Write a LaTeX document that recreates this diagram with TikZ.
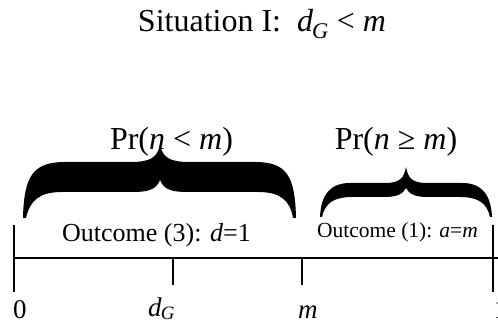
\documentclass[tikz,border=0pt]{standalone}
\usepackage{fontspec}
\setmainfont{Liberation Serif}
\begin{document}
\begin{tikzpicture}[x=1pt,y=-1pt,
  axisline/.style={line width=2.6pt},
  lbl/.style={inner sep=0pt,anchor=base},
  bracefill/.style={fill=black,draw=none}]
\useasboundingbox (0,0) rectangle (498,323);
\clip (0,0) rectangle (498,323);
% title
\node[lbl] (title) at (262,32) {\fontsize{32}{36}\selectfont Situation I:\ \ \textit{d}\textsubscript{\kern-1pt\textit{G}} < \textit{m}};
% probability labels
\node[lbl] (prl) at (171.5,150) {\fontsize{32}{36}\selectfont Pr(\textit{n} < \textit{m})};
\node[lbl] (prr) at (396,150) {\fontsize{32}{36}\selectfont Pr(\textit{n} ≥ \textit{m})};
% braces
\path[bracefill] (23,218) .. controls (24,176) and (33,162) .. (65,162) -- (130,162)
  .. controls (150,162) and (157,158) .. (160,145)
  .. controls (163,158) and (170,162) .. (190,162) -- (255,162)
  .. controls (287,162) and (295,176) .. (296,218) -- (293,218)
  .. controls (290,200) and (280,192) .. (258,192) -- (188,192)
  .. controls (172,192) and (164,190) .. (160,180)
  .. controls (156,190) and (148,192) .. (132,192) -- (62,192)
  .. controls (40,192) and (30,200) .. (26,218) -- cycle;
\path[bracefill] (320,217) .. controls (321,195) and (330,183) .. (350,183) -- (385,183)
  .. controls (400,183) and (404,178) .. (406,167)
  .. controls (408,178) and (412,183) .. (427,183) -- (462,183)
  .. controls (482,183) and (491,195) .. (492,217) -- (490,217)
  .. controls (487,203) and (478,197) .. (460,197) -- (428,197)
  .. controls (415,197) and (409,194) .. (406,188)
  .. controls (403,194) and (397,197) .. (384,197) -- (352,197)
  .. controls (334,197) and (325,203) .. (322,217) -- cycle;
% outcome labels
\node[lbl] (o3) at (156.5,242) {\fontsize{26}{30}\selectfont Outcome (3): \textit{d}=1};
\node[lbl] (o1) at (397.5,238) {\fontsize{21.5}{25}\selectfont Outcome (1): \textit{a}=\textit{m}};
% axis
\coordinate (L) at (14,258);
\coordinate (R) at (498,258);
\coordinate (Ltop) at (14,225);
\coordinate (Lbot) at (14,292);
\coordinate (Rtop) at (493,225);
\coordinate (Rbot) at (493,292);
\coordinate (dG) at (173,258);
\coordinate (dGb) at (173,285);
\coordinate (M) at (302,258);
\coordinate (Mb) at (302,285);
\draw[axisline] (L) -- (R);
\draw[axisline] (Ltop) -- (Lbot);
\draw[axisline] (Rtop) -- (Rbot);
\draw[axisline] (dG) -- (dGb);
\draw[axisline] (M) -- (Mb);
% tick labels
\node[lbl,anchor=base west] (zero) at (13,318) {\fontsize{27}{30}\selectfont 0};
\node[lbl,anchor=base west] (dGl) at (148,316) {\fontsize{27}{30}\selectfont \textit{d}\textsubscript{\kern-1pt\textit{G}}};
\node[lbl,anchor=base west] (ml) at (298,318) {\fontsize{27}{30}\selectfont \textit{m}};
\node[lbl,anchor=base west] (one) at (494,318) {\fontsize{27}{30}\selectfont 1};
\end{tikzpicture}
\end{document}
